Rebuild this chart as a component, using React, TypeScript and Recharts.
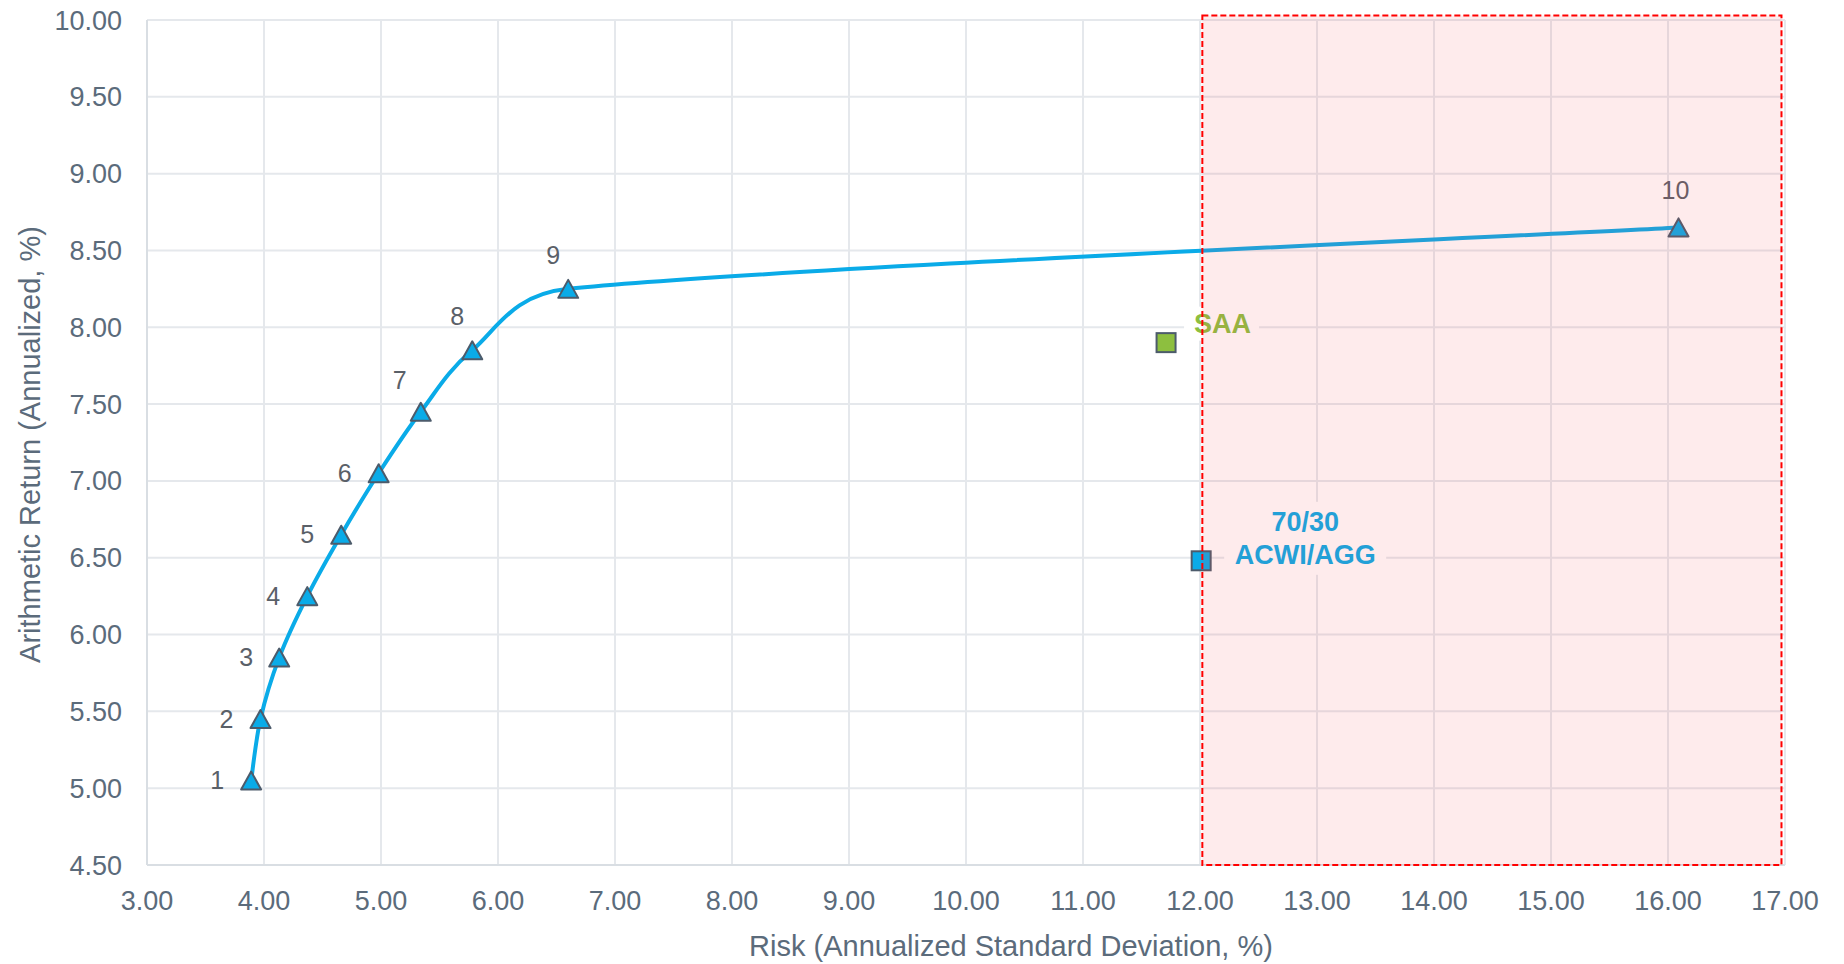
import React from "react";
import {
  ScatterChart,
  Scatter,
  XAxis,
  YAxis,
  CartesianGrid,
  ReferenceArea,
} from "recharts";

const FONT = '"Liberation Sans", Arial, sans-serif';

// Optimised portfolios along the frontier
const PORTFOLIOS = ["1", "2", "3", "4", "5", "6", "7", "8", "9", "10"];
const RISK = [3.89, 3.97, 4.13, 4.37, 4.66, 4.98, 5.34, 5.78, 6.6, 16.09];
const RETURN = [5.05, 5.45, 5.85, 6.25, 6.65, 7.05, 7.45, 7.85, 8.25, 8.65];

// Reference portfolios
const BENCH_NAMES = ["SAA", "70/30 ACWI/AGG"];
const BENCH_RISK = [11.71, 12.01];
const BENCH_RETURN = [7.9, 6.48];

// High-risk zone
const ZONE_RISK = [12.02, 16.97];
const ZONE_RETURN = [4.5, 10.03];

const X_TICKS = [3, 4, 5, 6, 7, 8, 9, 10, 11, 12, 13, 14, 15, 16, 17];
const Y_TICKS = [4.5, 5, 5.5, 6, 6.5, 7, 7.5, 8, 8.5, 9, 9.5, 10];

const BLUE = "#0AABE8";
const GREEN = "#8DBF3F";
const EDGE = "#4C5B6B";
const TICK_GREY = "#5B6B7B";
const LABEL_GREY = "#5A6068";
const GRID = "#E5E8EC";

// where each portfolio number sits relative to its marker
const LABEL_OFFSET: [number, number][] = [
  [-34, 0],
  [-34, 0],
  [-33, 0],
  [-34, 0],
  [-34, 0],
  [-34, 0],
  [-21, -32],
  [-15, -34],
  [-15, -34],
  [-3, -37],
];

const frontier = PORTFOLIOS.map((name, i) => ({
  name,
  risk: RISK[i],
  ret: RETURN[i],
}));
const saa = [{ name: BENCH_NAMES[0], risk: BENCH_RISK[0], ret: BENCH_RETURN[0] }];
const acwi = [{ name: BENCH_NAMES[1], risk: BENCH_RISK[1], ret: BENCH_RETURN[1] }];

const fmt = (v: number) => v.toFixed(2);

// Spreadsheet-style smoothed line: cubic Bezier through every point, with the
// control arms capped at half of the segment so long/short neighbours don't loop.
// eslint-disable-next-line @typescript-eslint/no-explicit-any
const smoothCurve = (context: any) => {
  let pts: [number, number][] = [];
  const dist = (a: [number, number], b: [number, number]) =>
    Math.hypot(b[0] - a[0], b[1] - a[1]);
  return {
    areaStart() {},
    areaEnd() {},
    lineStart() {
      pts = [];
    },
    point(x: number, y: number) {
      pts.push([+x, +y]);
    },
    lineEnd() {
      if (!pts.length) return;
      context.moveTo(pts[0][0], pts[0][1]);
      for (let i = 0; i < pts.length - 1; i++) {
        const p0 = pts[i - 1] ?? pts[i];
        const p1 = pts[i];
        const p2 = pts[i + 1];
        const p3 = pts[i + 2] ?? pts[i + 1];
        const d12 = dist(p1, p2);
        const d02 = dist(p0, p2);
        const d13 = dist(p1, p3);
        const f0 = d02 / 6 < d12 / 2 ? 1 / 6 : d12 / (2 * d02);
        const f1 = d13 / 6 < d12 / 2 ? 1 / 6 : d12 / (2 * d13);
        context.bezierCurveTo(
          p1[0] + (p2[0] - p0[0]) * f0,
          p1[1] + (p2[1] - p0[1]) * f0,
          p2[0] - (p3[0] - p1[0]) * f1,
          p2[1] - (p3[1] - p1[1]) * f1,
          p2[0],
          p2[1]
        );
      }
    },
  };
};

// eslint-disable-next-line @typescript-eslint/no-explicit-any
const FrontierPoint = (props: any) => {
  const { cx, cy, payload } = props;
  if (cx == null || cy == null) return null;
  const i = PORTFOLIOS.indexOf(payload.name);
  const [dx, dy] = LABEL_OFFSET[i] ?? [0, -35];
  return (
    <g>
      <polygon
        points={`${cx},${cy - 9} ${cx + 10},${cy + 9} ${cx - 10},${cy + 9}`}
        fill={BLUE}
        stroke={EDGE}
        strokeWidth={2}
        strokeLinejoin="round"
      />
      <text
        x={cx + dx}
        y={cy + dy}
        dy="0.35em"
        textAnchor="middle"
        fontSize={25}
        fontFamily={FONT}
        fill={LABEL_GREY}
      >
        {payload.name}
      </text>
    </g>
  );
};

// eslint-disable-next-line @typescript-eslint/no-explicit-any
const SaaPoint = (props: any) => {
  const { cx, cy, payload } = props;
  if (cx == null || cy == null) return null;
  return (
    <g>
      <rect x={cx + 18} y={cy - 36} width={75} height={34} fill="#fff" />
      <rect
        x={cx - 9.5}
        y={cy - 9.5}
        width={19}
        height={19}
        fill={GREEN}
        stroke={EDGE}
        strokeWidth={2}
      />
      <text
        x={cx + 28}
        y={cy - 19}
        dy="0.35em"
        fontSize={27}
        fontWeight="bold"
        fontFamily={FONT}
        fill={GREEN}
      >
        {payload.name}
      </text>
    </g>
  );
};

// eslint-disable-next-line @typescript-eslint/no-explicit-any
const AcwiPoint = (props: any) => {
  const { cx, cy, payload } = props;
  if (cx == null || cy == null) return null;
  const lines = String(payload.name).split(" ");
  return (
    <g>
      <rect x={cx + 23} y={cy - 59} width={162} height={73} fill="#fff" />
      <rect
        x={cx - 9.5}
        y={cy - 9.5}
        width={19}
        height={19}
        fill={BLUE}
        stroke={EDGE}
        strokeWidth={2}
      />
      {lines.map((line, i) => (
        <text
          key={line}
          x={cx + 104}
          y={cy - 39 + i * 33}
          dy="0.35em"
          textAnchor="middle"
          fontSize={27}
          fontWeight="bold"
          fontFamily={FONT}
          fill={BLUE}
        >
          {line}
        </text>
      ))}
    </g>
  );
};

// eslint-disable-next-line @typescript-eslint/no-explicit-any
const XTitle = (props: any) => {
  const vb = props.viewBox;
  return (
    <text
      x={vb.x + vb.width / 2 + 45}
      y={vb.y + 91}
      textAnchor="middle"
      fontSize={29}
      fontFamily={FONT}
      fill={TICK_GREY}
    >
      Risk (Annualized Standard Deviation, %)
    </text>
  );
};

// eslint-disable-next-line @typescript-eslint/no-explicit-any
const YTitle = (props: any) => {
  const vb = props.viewBox;
  const x = vb.x + 40;
  const y = vb.y + vb.height / 2 + 2;
  return (
    <text
      x={x}
      y={y}
      transform={`rotate(-90, ${x}, ${y})`}
      textAnchor="middle"
      fontSize={29}
      fontFamily={FONT}
      fill={TICK_GREY}
    >
      Arithmetic Return (Annualized, %)
    </text>
  );
};

const tickStyle = { fill: TICK_GREY, fontSize: 27, fontFamily: FONT };
const axisLine = { stroke: "#D9DEE3", strokeWidth: 2 };

export default function App() {
  return (
    <div
      style={{
        position: "absolute",
        left: 0,
        top: 0,
        width: 1844,
        height: 964,
        fontFamily: FONT,
      }}
    >
      <ScatterChart
        width={1844}
        height={964}
        margin={{ top: 20, right: 59, bottom: 0, left: 0 }}
      >
        <CartesianGrid stroke={GRID} strokeWidth={2} />
        <XAxis
          type="number"
          dataKey="risk"
          domain={[3, 17]}
          ticks={X_TICKS}
          interval={0}
          allowDataOverflow
          tickFormatter={fmt}
          tick={tickStyle}
          tickLine={false}
          tickSize={0}
          tickMargin={26}
          axisLine={axisLine}
          height={99}
          label={XTitle}
        />
        <YAxis
          type="number"
          dataKey="ret"
          domain={[4.5, 10]}
          ticks={Y_TICKS}
          interval={0}
          allowDataOverflow
          tickFormatter={fmt}
          tick={tickStyle}
          tickLine={false}
          tickSize={0}
          tickMargin={25}
          axisLine={axisLine}
          width={147}
          label={YTitle}
        />
        <Scatter
          data={frontier}
          line={{ stroke: BLUE, strokeWidth: 4 }}
          lineJointType={smoothCurve}
          shape={FrontierPoint}
          isAnimationActive={false}
        />
        <Scatter data={saa} shape={SaaPoint} isAnimationActive={false} />
        <Scatter data={acwi} shape={AcwiPoint} isAnimationActive={false} />
        <ReferenceArea
          x1={ZONE_RISK[0]}
          x2={ZONE_RISK[1]}
          y1={ZONE_RETURN[0]}
          y2={ZONE_RETURN[1]}
          ifOverflow="visible"
          fill="#F5484E"
          fillOpacity={0.11}
          stroke="#FF0000"
          strokeWidth={2}
          strokeDasharray="6 3"
          zIndex={1000}
        />
      </ScatterChart>
    </div>
  );
}
